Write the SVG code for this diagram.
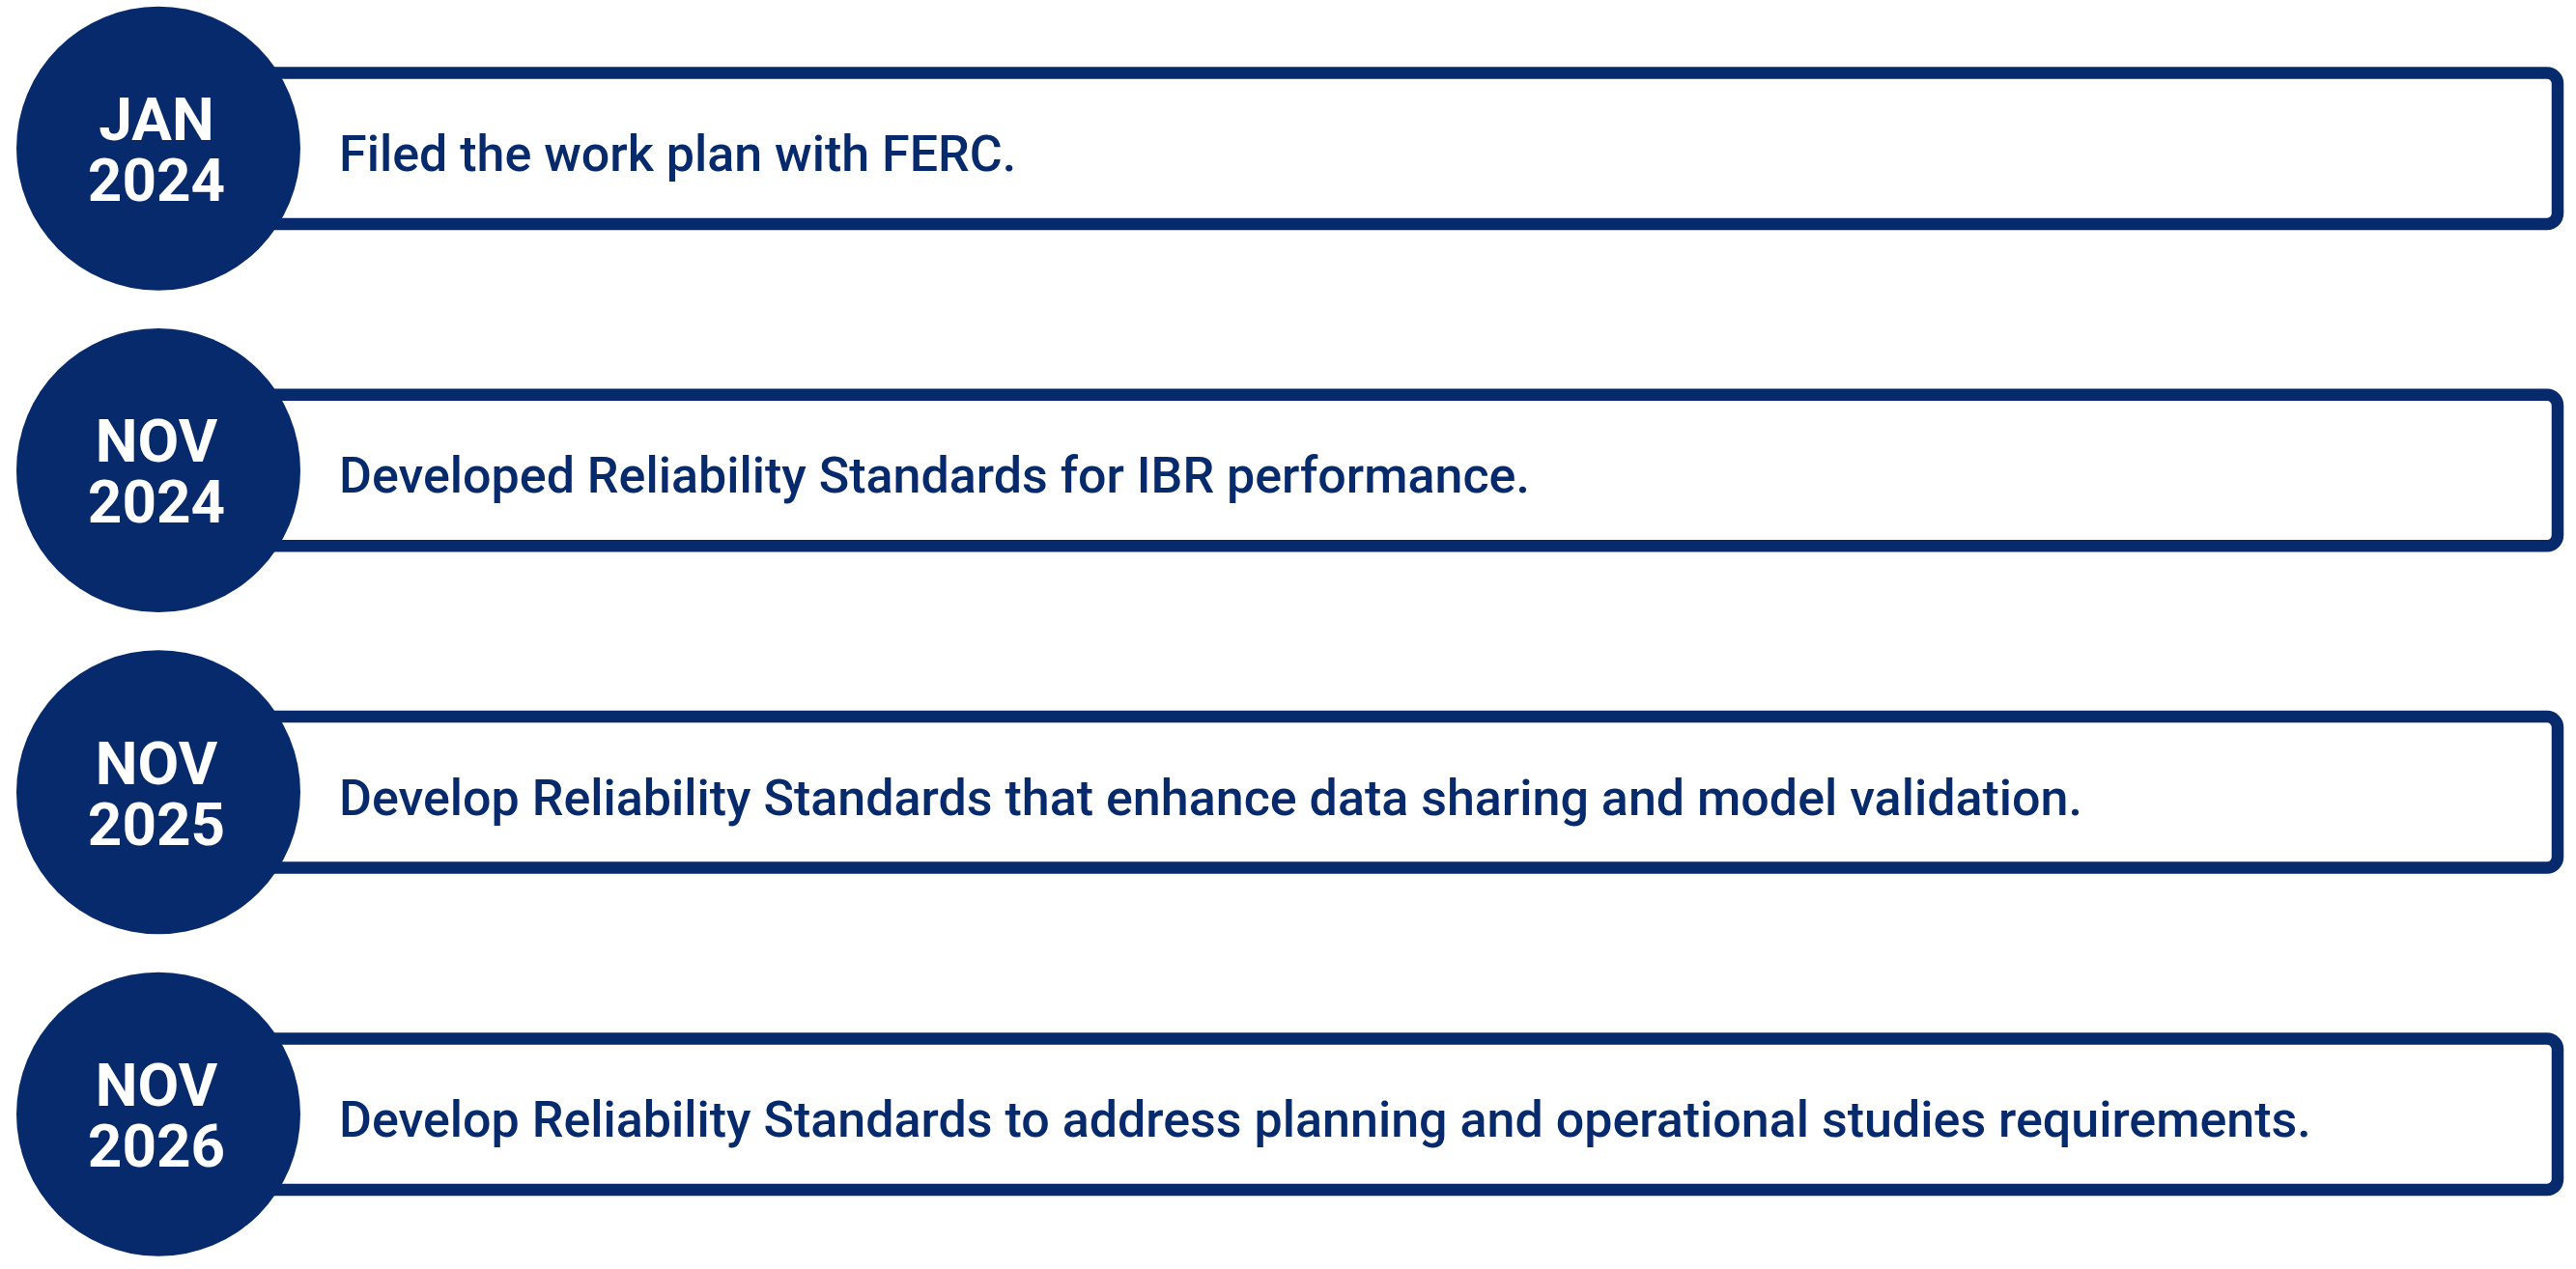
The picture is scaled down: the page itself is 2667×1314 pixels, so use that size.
<svg xmlns="http://www.w3.org/2000/svg" width="2667" height="1314" viewBox="0 0 2667 1314">
<style>
.box{fill:#fff;stroke:#062a6b;stroke-width:12.5}
.dot{fill:#062a6b}
.date{font-family:Roboto,"Liberation Sans",sans-serif;font-weight:700;font-size:62px;fill:#fff;text-anchor:middle}
.desc{font-family:Roboto,"Liberation Sans",sans-serif;font-weight:500;font-size:52px;fill:#062a6b}
</style>
<rect width="2667" height="1314" fill="#fff"/>
<g id="item1">
<rect class="box" x="170" y="75.5" width="2478" height="156.5" rx="11"/>
<circle class="dot" cx="164" cy="153.7" r="147"/>
<text class="date" x="162" y="145">JAN</text>
<text class="date" x="162" y="208">2024</text>
<text class="desc" x="351" y="177">Filed the work plan with FERC.</text>
</g>
<g id="item2">
<rect class="box" x="170" y="408.8" width="2478" height="156.5" rx="11"/>
<circle class="dot" cx="164" cy="487" r="147"/>
<text class="date" x="162" y="478.3">NOV</text>
<text class="date" x="162" y="541.3">2024</text>
<text class="desc" x="351" y="510.3">Developed Reliability Standards for IBR performance.</text>
</g>
<g id="item3">
<rect class="box" x="170" y="742.1" width="2478" height="156.5" rx="11"/>
<circle class="dot" cx="164" cy="820.3" r="147"/>
<text class="date" x="162" y="811.6">NOV</text>
<text class="date" x="162" y="874.6">2025</text>
<text class="desc" x="351" y="843.6">Develop Reliability Standards that enhance data sharing and model validation.</text>
</g>
<g id="item4">
<rect class="box" x="170" y="1075.5" width="2478" height="156.5" rx="11"/>
<circle class="dot" cx="164" cy="1153.7" r="147"/>
<text class="date" x="162" y="1145">NOV</text>
<text class="date" x="162" y="1208">2026</text>
<text class="desc" x="351" y="1177">Develop Reliability Standards to address planning and operational studies requirements.</text>
</g>
<g id="connectors"/>
</svg>
